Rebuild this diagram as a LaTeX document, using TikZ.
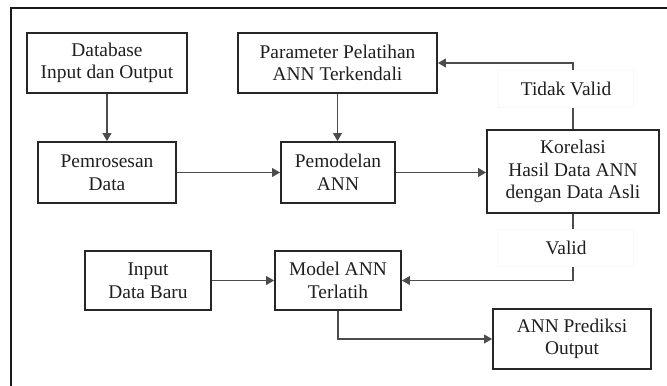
\documentclass[tikz,border=0pt]{standalone}
\usepackage{fontspec}
\setmainfont{Liberation Serif}
\usetikzlibrary{arrows.meta}
\begin{document}
\begin{tikzpicture}[x=0.5pt,y=-0.5pt,
  txt/.style={font=\fontsize{9.7}{11.3}\selectfont, text=black!88, align=center},
  box/.style={txt, draw=black!85, line width=0.9pt, inner sep=0pt},
  link/.style={draw=black!70, line width=0.6pt, -{Triangle[length=4pt,width=4.4pt]}},
  tag/.style={txt, fill=white, draw=black!2.5, line width=0.3pt, minimum width=67.5pt, minimum height=18.5pt, inner sep=0pt}]

\useasboundingbox (0,0) rectangle (667,385);
% outer frame, running off the right and bottom edges
\begin{scope}
  \clip (0,0) rectangle (667,385);
  \draw[line width=1pt, black!90] (11,8) rectangle (720,440);
\end{scope}

% process boxes
\node[box, minimum width=80pt,   minimum height=30pt]   (db)      at (107,63)    {Database\\Input dan Output};
\node[box, minimum width=69pt,   minimum height=30.5pt] (proc)    at (107,172.5) {Pemrosesan\\Data};
\node[box, minimum width=99.5pt, minimum height=30pt]   (param)   at (337.5,63)  {Parameter Pelatihan\\ANN Terkendali};
\node[box, minimum width=57pt,   minimum height=30.5pt] (model)   at (338,172.5) {Pemodelan\\ANN};
\node[box, minimum width=86pt,   minimum height=41.5pt] (kor)     at (573,171.5) {Korelasi\\Hasil Data ANN\\dengan Data Asli};
\node[box, minimum width=63pt,   minimum height=29.5pt] (inp)     at (148,280.5) {Input\\Data Baru};
\node[box, minimum width=63pt,   minimum height=29.5pt] (trained) at (338,280.5) {Model ANN\\Terlatih};
\node[box, minimum width=79pt,   minimum height=30pt]   (pred)    at (572,339)   {ANN Prediksi\\Output};

% bend points of the feedback loops
\coordinate (tv) at (573,63);
\coordinate (va) at (573,280.5);

% connectors
\draw[link] (db) -- (proc);
\draw[link] (param.south) -- (model.north -| param.south);
\draw[link] (proc) -- (model);
\draw[link] (model.east) -- (model.east -| kor.west);
\draw[link] (kor.north) -- (tv) -- (tv -| param.east);
\draw[link] (kor.south) -- (va) -- (trained.east);
\draw[link] (inp) -- (trained);
\draw[link] (trained.south) -- (trained.south |- pred.west) -- (pred.west);

% decision labels over the loop lines
\node[tag] (lno)  at (566,89)  {Tidak Valid};
\node[tag] (lyes) at (566,248) {Valid};
\end{tikzpicture}
\end{document}
